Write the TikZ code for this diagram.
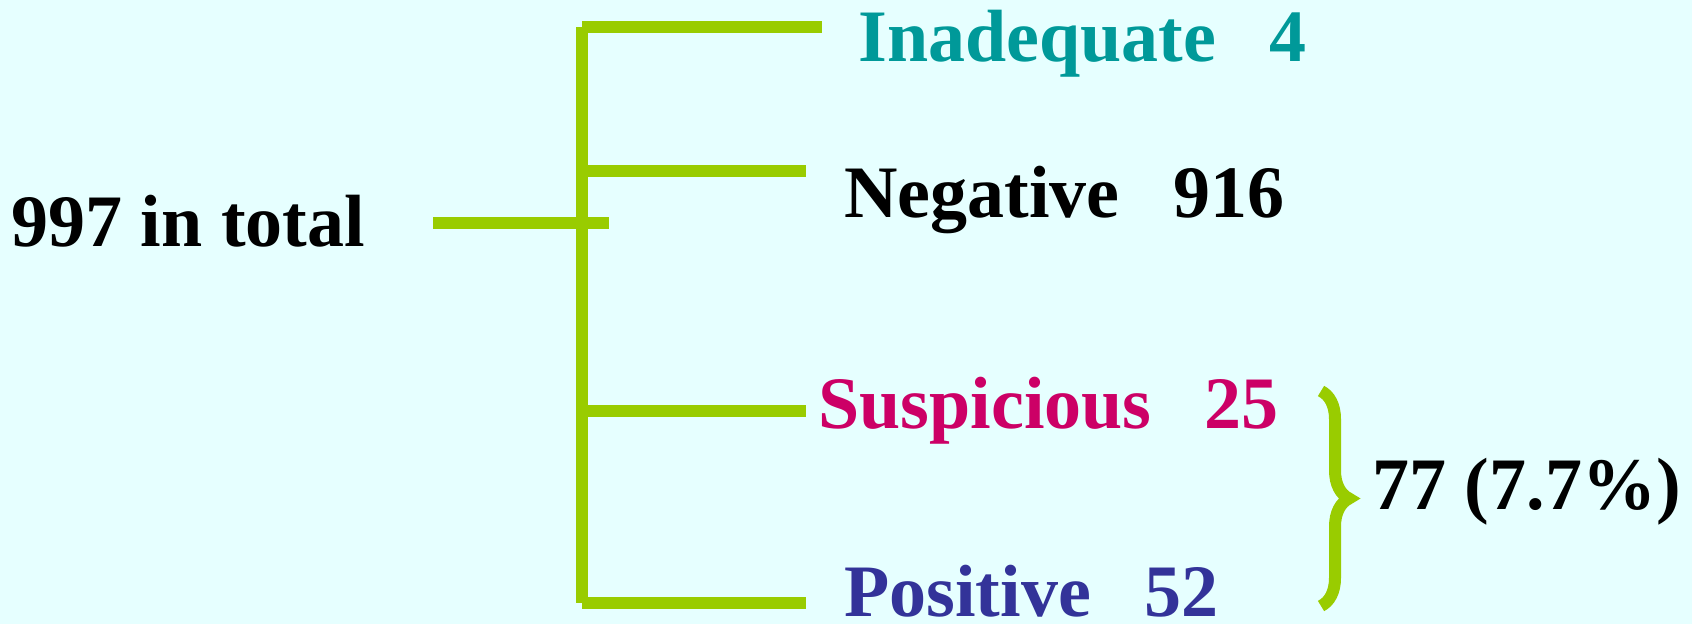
\documentclass[tikz,border=0pt]{standalone}
\usepackage{fontspec}
\setmainfont{Liberation Serif}
\usetikzlibrary{positioning, decorations.pathreplacing}

\definecolor{bgcyan}{HTML}{E6FFFF}
\definecolor{leafgreen}{HTML}{99CC00}
\definecolor{tealtext}{HTML}{009999}
\definecolor{rosetext}{HTML}{CC0066}
\definecolor{navytext}{HTML}{333399}

\newcommand{\numgap}{\hspace{0.72em}}

\begin{document}
\begin{tikzpicture}[
    x=0.5pt, y=-0.5pt,
    branch/.style={draw=leafgreen, line width=6pt},
    result/.style={anchor=base west, inner sep=0pt, font=\fontsize{37}{40}\selectfont\bfseries},
    curly/.style={draw=leafgreen, line width=6pt, decorate,
        decoration={brace, amplitude=14pt}}
]

    % ==================== CANVAS ====================
    \fill[bgcyan] (0,0) rectangle (1692,624);
    \useasboundingbox (0,0) rectangle (1692,624);

    % ==================== TEXTS ====================
    \node[result] (total) at (11,247) {997 in total};
    \node[result, text=tealtext] (inadequate) at (858,62) {Inadequate\numgap 4};
    \node[result] (negative) at (844,218) {Negative\numgap 916};
    \node[result, text=rosetext] (suspicious) at (818,429) {Suspicious\numgap 25};
    \node[result, text=navytext] (positive) at (844,617) {Positive\numgap 52};
    \node[result] (sum) at (1372,510) {77 (7.7\%)};

    % ==================== TREE ====================
    % Stub from the total
    \coordinate (stub start) at (433,223);
    \coordinate (stub end) at (609,223);
    % Spine
    \coordinate (spine top) at (582,27);
    \coordinate (spine mid1) at (582,171);
    \coordinate (spine mid2) at (582,411);
    \coordinate (spine bottom) at (582,603);
    % Branch ends
    \coordinate (end inadequate) at (822,27);
    \coordinate (end negative) at (806,171);
    \coordinate (end suspicious) at (806,411);
    \coordinate (end positive) at (806,603);

    \draw[branch] (stub start) -- (stub end);
    \draw[branch] (spine top) -- (spine bottom);
    \draw[branch] (spine top) -- (end inadequate);
    \draw[branch] (spine mid1) -- (end negative);
    \draw[branch] (spine mid2) -- (end suspicious);
    \draw[branch] (spine bottom) -- (end positive);

    % ==================== BRACE ====================
    \coordinate (brace top) at (1321,391);
    \coordinate (brace bottom) at (1321,606);
    \draw[curly] (brace top) -- (brace bottom);
\end{tikzpicture}
\end{document}
